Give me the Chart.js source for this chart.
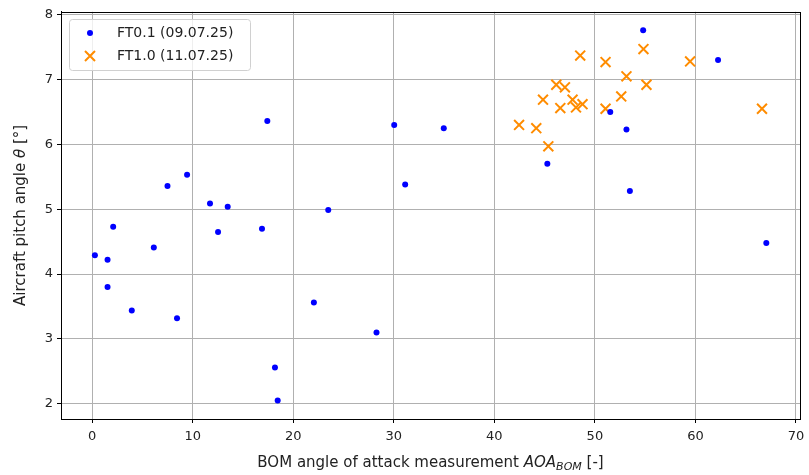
<!DOCTYPE html>
<html>
<head>
<meta charset="utf-8">
<script src="https://cdn.jsdelivr.net/npm/chart.js@4"></script>
<style>
  html, body { margin: 0; padding: 0; background: #fff; }
  #wrap { width: 809px; height: 475px; }
</style>
</head>
<body>
<div id="wrap"><canvas id="myChart" width="809" height="475"></canvas></div>
<script>
// FT0.1 (09.07.25)
const ft01X = [0.27, 1.53, 1.53, 2.09, 3.94, 6.13, 7.49, 8.44, 9.44, 11.72, 12.52, 13.48, 16.89, 17.42, 18.18, 18.45, 22.05, 23.48, 28.28, 30.04, 31.13, 34.97, 45.27, 51.53, 53.14, 53.48, 54.80, 62.25, 67.05];
const ft01Y = [4.29, 4.22, 3.80, 4.73, 3.44, 4.41, 5.36, 3.32, 5.53, 5.09, 4.65, 5.04, 4.70, 6.36, 2.56, 2.05, 3.56, 4.99, 3.10, 6.30, 5.38, 6.25, 5.70, 6.50, 6.23, 5.28, 7.76, 7.30, 4.48];
// FT1.0 (11.07.25)
const ft10X = [48.54, 51.06, 54.83, 59.47, 53.14, 55.13, 46.16, 47.02, 52.62, 44.84, 47.78, 48.77, 48.12, 46.56, 51.06, 66.62, 42.46, 44.17, 45.37];
const ft10Y = [7.37, 7.27, 7.47, 7.28, 7.05, 6.92, 6.92, 6.88, 6.74, 6.69, 6.69, 6.62, 6.57, 6.56, 6.55, 6.55, 6.30, 6.25, 5.97];

const seriesNames = ['FT0.1 (09.07.25)', 'FT1.0 (11.07.25)'];
const xTicks = [0, 10, 20, 30, 40, 50, 60, 70];
const yTicks = [2, 3, 4, 5, 6, 7, 8];

const FONT = 'DejaVu Sans';
const BLUE = '#0000ff';
const ORANGE = '#ff8c00';

const toPoints = (xs, ys) => xs.map((x, i) => ({ x: x, y: ys[i] }));

// frame, axis titles and legend, matplotlib style
const decor = {
    id: 'decor',
    afterDraw(chart) {
        const ctx = chart.ctx;
        const a = chart.chartArea;
        ctx.save();
        ctx.strokeStyle = '#000';
        ctx.lineWidth = 1;
        ctx.strokeRect(Math.round(a.left) + 0.5, Math.round(a.top) + 0.5,
            Math.round(a.right - a.left), Math.round(a.bottom - a.top));

        ctx.fillStyle = '#222';
        ctx.textBaseline = 'alphabetic';

        // x title with italic AOA and subscript BOM
        const parts = [
            { t: 'BOM angle of attack measurement ', f: '15px ' + FONT, dy: 0 },
            { t: 'AOA', f: 'oblique 15px ' + FONT, dy: 0 },
            { t: 'BOM', f: 'oblique 11px ' + FONT, dy: 3 },
            { t: ' [-]', f: '15px ' + FONT, dy: 0 }
        ];
        let w = 0;
        parts.forEach(p => { ctx.font = p.f; w += ctx.measureText(p.t).width; });
        let x = (a.left + a.right) / 2 - w / 2;
        parts.forEach(p => {
            ctx.font = p.f;
            ctx.textAlign = 'left';
            ctx.fillText(p.t, x, 467 + p.dy);
            x += ctx.measureText(p.t).width;
        });

        // y title
        const yparts = [
            { t: 'Aircraft pitch angle ', f: '15px ' + FONT },
            { t: 'θ', f: 'oblique 15px ' + FONT },
            { t: ' [°]', f: '15px ' + FONT }
        ];
        w = 0;
        yparts.forEach(p => { ctx.font = p.f; w += ctx.measureText(p.t).width; });
        ctx.translate(25, (a.top + a.bottom) / 2);
        ctx.rotate(-Math.PI / 2);
        x = -w / 2;
        yparts.forEach(p => {
            ctx.font = p.f;
            ctx.fillText(p.t, x, 0);
            x += ctx.measureText(p.t).width;
        });
        ctx.restore();

        // legend
        ctx.save();
        const lx = 69, ly = 19, lw = 181, lh = 51;
        ctx.beginPath();
        ctx.roundRect(lx + 0.5, ly + 0.5, lw, lh, 3);
        ctx.fillStyle = 'rgba(255,255,255,0.8)';
        ctx.fill();
        ctx.strokeStyle = '#d0d0d0';
        ctx.lineWidth = 1;
        ctx.stroke();

        ctx.fillStyle = BLUE;
        ctx.beginPath();
        ctx.arc(90, 33, 3, 0, Math.PI * 2);
        ctx.fill();

        ctx.strokeStyle = ORANGE;
        ctx.lineWidth = 2;
        ctx.beginPath();
        ctx.moveTo(85, 51); ctx.lineTo(95, 61);
        ctx.moveTo(95, 51); ctx.lineTo(85, 61);
        ctx.stroke();

        ctx.fillStyle = '#222';
        ctx.font = '14px ' + FONT;
        ctx.textAlign = 'left';
        ctx.textBaseline = 'middle';
        ctx.fillText(seriesNames[0], 117, 33);
        ctx.fillText(seriesNames[1], 117, 56);
        ctx.restore();
    }
};

const ctx = document.getElementById('myChart').getContext('2d');

const data = {
    datasets: [
        {
            label: seriesNames[0],
            data: toPoints(ft01X, ft01Y),
            pointStyle: 'circle',
            pointRadius: 3,
            pointHoverRadius: 3,
            backgroundColor: BLUE,
            borderColor: BLUE,
            borderWidth: 0
        },
        {
            label: seriesNames[1],
            data: toPoints(ft10X, ft10Y),
            pointStyle: 'crossRot',
            pointRadius: 7,
            pointHoverRadius: 7,
            backgroundColor: ORANGE,
            borderColor: ORANGE,
            borderWidth: 2
        }
    ]
};

const config = {
    type: 'scatter',
    data: data,
    plugins: [decor],
    options: {
        responsive: false,
        animation: false,
        layout: { padding: { top: 10, right: 8, left: 0, bottom: 0 } },
        plugins: {
            legend: { display: false },
            tooltip: { enabled: false }
        },
        scales: {
            x: {
                type: 'linear',
                min: -3.1,
                max: 70.4,
                afterBuildTicks: s => { s.ticks = xTicks.map(v => ({ value: v })); },
                afterFit: s => { s.height = 56; s.paddingLeft = 0; s.paddingRight = 0; },
                grid: { color: '#b0b0b0', lineWidth: 1, tickColor: '#000', tickLength: 4 },
                border: { color: '#000', width: 1 },
                ticks: { color: '#222', font: { family: FONT, size: 13 }, padding: 6, maxRotation: 0 }
            },
            y: {
                type: 'linear',
                min: 1.765,
                max: 8.045,
                afterBuildTicks: s => { s.ticks = yTicks.map(v => ({ value: v })); },
                afterFit: s => { s.width = 61; },
                grid: { color: '#b0b0b0', lineWidth: 1, tickColor: '#000', tickLength: 4 },
                border: { color: '#000', width: 1 },
                ticks: { color: '#222', font: { family: FONT, size: 13 }, padding: 4 }
            }
        }
    }
};

new Chart(ctx, config);
</script>
</body>
</html>
